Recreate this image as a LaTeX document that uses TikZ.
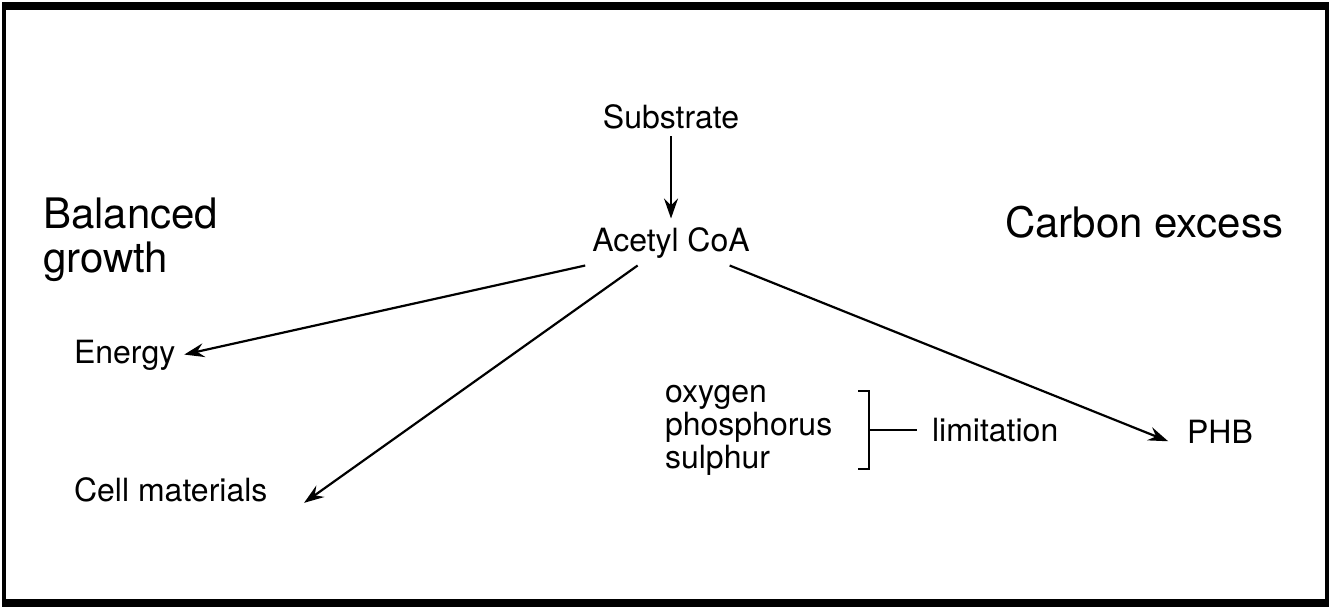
\documentclass[tikz,border=0pt]{standalone}
\usepackage{fontspec}
\setmainfont{TeX Gyre Heros}
\usetikzlibrary{arrows.meta}

\begin{document}
\begin{tikzpicture}[>={Stealth[length=10pt,width=7pt,inset=3.5pt]}, x=0.5pt, y=-0.5pt,
    every node/.style={font=\fontsize{16}{16.5}\selectfont},
    big/.style={font=\fontsize{21}{22}\selectfont, align=left},
    flow/.style={->, line width=1.1pt, shorten >=1pt}]

    \useasboundingbox (0,0) rectangle (1331,610);
    \draw[line width=2pt] (4,6) rectangle (1327,603);
    \draw[line width=4pt] (2,6) -- (1329,6);
    \draw[line width=4pt] (2,603) -- (1329,603);

    \node (substrate) at (671,117) {Substrate};
    \node[below of=substrate, node distance=63pt] (acetyl) {Acetyl CoA};

    \node[big, anchor=west] (balanced) at (36,240) {Balanced\\growth};
    \node[big, anchor=west] (carbon) at (998,222) {Carbon excess};

    \node[anchor=west] (energy) at (67,355) {Energy};
    \node[anchor=west] (cells) at (67,490) {Cell materials};
    \node[anchor=west, align=left] (elements) at (658,430) {oxygen\\phosphorus\\sulphur};
    \node[anchor=west] (limit) at (925,430) {limitation};
    \node[anchor=west] (phb) at (1180,432) {PHB};

    \draw[flow] (substrate) -- (acetyl);
    \draw[flow] (acetyl.south west) -- (energy.east);
    \draw[flow] (acetyl.214) -- ([xshift=14pt,yshift=-7pt]cells.east);
    \draw[flow] (acetyl.339) -- ([xshift=-5pt,yshift=-5pt]phb.west);

    % bracket
    \coordinate (brtop) at (858,391);
    \coordinate (brbot) at (858,469);
    \coordinate (brmid) at (869,430);
    \draw[line width=1.1pt] (brtop) -- ++(11,0) |- (brbot);
    \draw[line width=1.1pt, shorten >=4pt] (brmid) -- (limit.west);

\end{tikzpicture}
\end{document}
